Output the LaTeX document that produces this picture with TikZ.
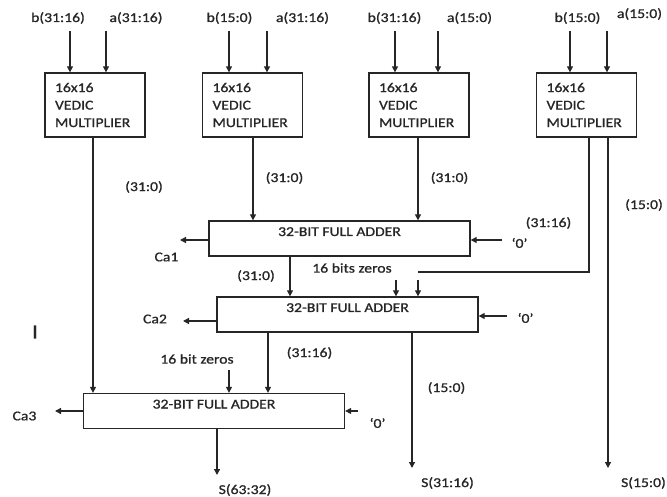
\documentclass[tikz,border=0pt]{standalone}
\usepackage{fontspec}
\setmainfont{Carlito}[FakeStretch=1.16, FakeBold=1]
\usetikzlibrary{arrows.meta}

\begin{document}
\begin{tikzpicture}[
    x=1pt, y=-1pt,
    every node/.style={font=\fontsize{13.5}{17.5}\selectfont, text=black!85},
    mult/.style={rectangle, draw=black!85, line width=1.3pt, minimum width=100pt, minimum height=64pt, text width=80pt, inner xsep=10pt, align=left},
    adder/.style={rectangle, draw=black!85, line width=1.3pt, minimum width=261pt, minimum height=35pt, text height=9pt, text depth=14pt, inner ysep=6pt},
    lbl/.style={inner sep=0pt},
    arrow/.style={-{Triangle[length=6pt, width=6pt]}, line width=1.3pt, draw=black!85}
]
    \useasboundingbox (0,0) rectangle (667,497);

    % Vedic multipliers
    \node[mult] (m1) at (95,105) {16x16\\VEDIC\\MULTIPLIER};
    \node[mult] (m2) at (252.5,105) {16x16\\VEDIC\\MULTIPLIER};
    \node[mult] (m3) at (419,105) {16x16\\VEDIC\\MULTIPLIER};
    \node[mult] (m4) at (586.5,105) {16x16\\VEDIC\\MULTIPLIER};

    % Full adders
    \node[adder] (add1) at (339.5,238.5) {32-BIT FULL ADDER};
    \node[adder] (add2) at (347.5,314.5) {32-BIT FULL ADDER};
    \node[adder] (add3) at (214,411) {32-BIT FULL ADDER};

    % Operand inputs
    \node[lbl] (in1b) at (58,18) {b(31:16)};
    \node[lbl] (in1a) at (136,18) {a(31:16)};
    \node[lbl] (in2b) at (229.5,18) {b(15:0)};
    \node[lbl] (in2a) at (302.5,18) {a(31:16)};
    \node[lbl] (in3b) at (394.5,18) {b(31:16)};
    \node[lbl] (in3a) at (469.5,18) {a(15:0)};
    \node[lbl] (in4b) at (577.5,18) {b(15:0)};
    \node[lbl] (in4a) at (639.5,14) {a(15:0)};

    \coordinate (i1b) at (70,31);
    \coordinate (i1a) at (106,31);
    \coordinate (i2b) at (229,31);
    \coordinate (i2a) at (267,31);
    \coordinate (i3b) at (395,31);
    \coordinate (i3a) at (438,31);
    \coordinate (i4b) at (570,31);
    \coordinate (i4a) at (607,31);
    \draw[arrow] (i1b) -- (i1b |- m1.north);
    \draw[arrow] (i1a) -- (i1a |- m1.north);
    \draw[arrow] (i2b) -- (i2b |- m2.north);
    \draw[arrow] (i2a) -- (i2a |- m2.north);
    \draw[arrow] (i3b) -- (i3b |- m3.north);
    \draw[arrow] (i3a) -- (i3a |- m3.north);
    \draw[arrow] (i4b) -- (i4b |- m4.north);
    \draw[arrow] (i4a) -- (i4a |- m4.north);

    % Multiplier outputs
    \coordinate (p1) at (93,0);
    \coordinate (p2) at (253,0);
    \coordinate (p3) at (418,0);
    \coordinate (p4lo) at (589,0);
    \coordinate (p4hi) at (608,468);
    \draw[arrow] (p1 |- m1.south) -- (p1 |- add3.north);
    \draw[arrow] (p2 |- m2.south) -- (p2 |- add1.north);
    \draw[arrow] (p3 |- m3.south) -- (p3 |- add1.north);
    \coordinate (zr) at (418,272);
    \draw[line width=1.3pt, black!85] (p4lo |- m4.south) |- (zr);
    \draw[arrow] (p4hi |- m4.south) -- (p4hi);

    \coordinate (z1) at (396,280);
    \coordinate (z2) at (418,280);
    \draw[arrow] (z1) -- (z1 |- add2.north);
    \draw[arrow] (z2) -- (z2 |- add2.north);

    % Adder chain
    \coordinate (q1) at (290,0);
    \coordinate (q2) at (268,0);
    \coordinate (q3) at (412,468);
    \coordinate (q4) at (217,475);
    \coordinate (z3) at (229,370);
    \draw[arrow] (q1 |- add1.south) -- (q1 |- add2.north);
    \draw[arrow] (q2 |- add2.south) -- (q2 |- add3.north);
    \draw[arrow] (q3 |- add2.south) -- (q3);
    \draw[arrow] (z3) -- (z3 |- add3.north);
    \draw[arrow] (q4 |- add3.south) -- (q4);

    % Carries and '0' inputs
    \coordinate (c1) at (180,240);
    \coordinate (c2) at (183,321);
    \coordinate (c3) at (55,411);
    \coordinate (k1) at (502,240);
    \coordinate (k2) at (507,316);
    \coordinate (k3) at (358,411);
    \draw[arrow] (c1 -| add1.west) -- (c1);
    \draw[arrow] (c2 -| add2.west) -- (c2);
    \draw[arrow] (c3 -| add3.west) -- (c3);
    \draw[arrow] (k1) -- (k1 -| add1.east);
    \draw[arrow] (k2) -- (k2 -| add2.east);
    \draw[arrow] (k3) -- (k3 -| add3.east);

    % Bus labels
    \node[lbl] (l1) at (144,187) {(31:0)};
    \node[lbl] (l2) at (284.5,178) {(31:0)};
    \node[lbl] (l3) at (449.5,178) {(31:0)};
    \node[lbl] (l4) at (548.5,223) {(31:16)};
    \node[lbl] (l5) at (644,205) {(15:0)};
    \node[lbl] (l6) at (256,276) {(31:0)};
    \node[lbl] (l7) at (352,268) {16 bits zeros};
    \node[lbl] (l8) at (309.5,353) {(31:16)};
    \node[lbl] (l9) at (197,359) {16 bit zeros};
    \node[lbl] (l10) at (446.5,388) {(15:0)};

    \node[lbl] (ca1) at (166.5,257) {Ca1};
    \node[lbl] (ca2) at (155,319) {Ca2};
    \node[lbl] (ca3) at (24.5,416) {Ca3};
    \node[lbl] (zero1) at (519.5,243) {‘0’};
    \node[lbl] (zero2) at (525.5,318) {‘0’};
    \node[lbl] (zero3) at (377.5,423) {‘0’};

    \node[lbl] (s1) at (245,490) {S(63:32)};
    \node[lbl] (s2) at (447.5,483) {S(31:16)};
    \node[lbl, anchor=east] (s3) at (666,483) {S(15:0)};

    \node[lbl, font=\fontsize{20}{22}\selectfont] (mark) at (35,332) {I};
\end{tikzpicture}
\end{document}
